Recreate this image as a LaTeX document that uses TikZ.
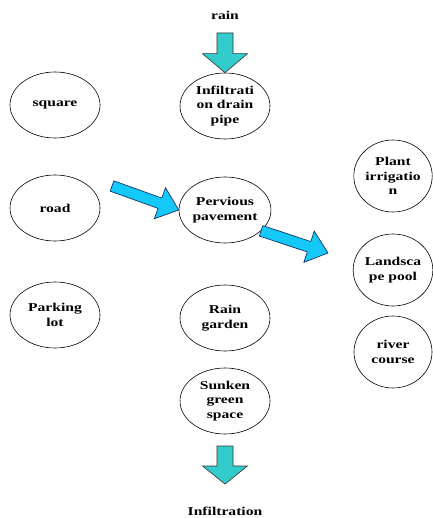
\documentclass[tikz,border=0pt]{standalone}
\usepackage{fontspec}
\setmainfont{Liberation Serif}[FakeStretch=1.3]
\usetikzlibrary{shapes.geometric,calc}

\definecolor{tealfill}{RGB}{51,204,204}
\definecolor{bluefill}{RGB}{20,200,250}
\definecolor{blueline}{RGB}{10,30,90}

% block arrow: style, from, to, half shaft width, half head width, head length
\newcommand\blockarrow[6]{%
  \path ($(#3)!#6!(#2)$) coordinate (headbase);
  \draw[#1] ($(#2)!#4!90:(#3)$) -- ($(headbase)!#4!90:(#3)$)
    -- ($(headbase)!#5!90:(#3)$) -- (#3)
    -- ($(headbase)!#5!-90:(#3)$) -- ($(headbase)!#4!-90:(#3)$)
    -- ($(#2)!#4!-90:(#3)$) -- cycle;}

\begin{document}
\begin{tikzpicture}[x=1pt,y=-1pt,
  every node/.style={font=\bfseries\fontsize{12}{14.5}\selectfont,align=center},
  bubble/.style={ellipse,draw,line width=0.6pt,inner sep=0pt,
    minimum width=90pt,minimum height=66pt},
  sidebubble/.style={bubble,minimum width=78pt,minimum height=72pt},
  droparrow/.style={fill=tealfill,draw=black!80,line width=0.6pt,line join=miter},
  flowarrow/.style={fill=bluefill,draw=blueline,line width=0.6pt,line join=miter}]
\useasboundingbox (0,0) rectangle (432,518);

% left column
\node[bubble] (square) at (55,105) {square};
\node[bubble] (road) at (55,208) {road};
\node[bubble] (parking) at (55,315) {Parking\\lot};

% middle column
\node (rain) at (225,15) {rain};
\node[bubble] (drain) at (225,106) {Infiltrati\\on drain\\pipe};
\node[bubble] (pervious) at (225,210) {Pervious\\pavement};
\node[bubble] (garden) at (225,318) {Rain\\garden};
\node[bubble] (sunken) at (225,401) {Sunken\\green\\space};
\node (infil) at (225,511) {Infiltration};

% right column
\node[sidebubble] (plant) at (393,176) {Plant\\irrigatio\\n};
\node[sidebubble] (pool) at (393,270) {Landsca\\pe pool};
\node[sidebubble] (river) at (393,352) {river\\course};

% arrow end points
\coordinate (raintail) at (225,33);
\coordinate (roadtail) at (112,186);
\coordinate (flowtip) at (328,253);
\coordinate (downtail) at (225,446);
\coordinate (downtip) at (225,484);

\blockarrow{droparrow}{raintail}{drain.north}{8pt}{22.5pt}{19pt}
\blockarrow{flowarrow}{roadtail}{pervious.west}{5.5pt}{16.5pt}{20pt}
\blockarrow{flowarrow}{pervious.-30}{flowtip}{5.5pt}{16.5pt}{20pt}
\blockarrow{droparrow}{downtail}{downtip}{8pt}{22.5pt}{18pt}
\end{tikzpicture}
\end{document}
